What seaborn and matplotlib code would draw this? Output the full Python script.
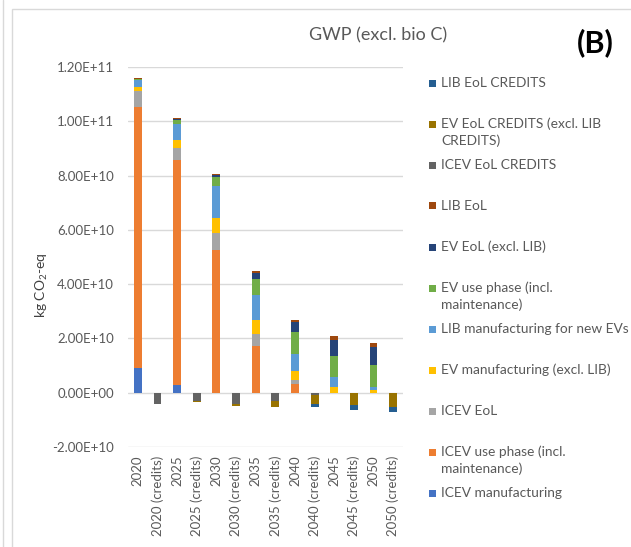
import matplotlib
matplotlib.use("Agg")
import matplotlib.pyplot as plt
import matplotlib.ticker as mticker
from matplotlib.patches import Rectangle
from matplotlib.lines import Line2D
import numpy as np
import pandas as pd
import seaborn as sns

# ---------------- data (kg CO2-eq, units of 1e9) ----------------
categories = ["2020", "2020 (credits)", "2025", "2025 (credits)", "2030", "2030 (credits)",
              "2035", "2035 (credits)", "2040", "2040 (credits)", "2045", "2045 (credits)",
              "2050", "2050 (credits)"]

icev_manufacturing = [9.1, 0, 2.9, 0, 0, 0, 0, 0, 0, 0, 0, 0, 0, 0]
icev_use_phase     = [96.0, 0, 82.9, 0, 52.7, 0, 17.3, 0, 3.1, 0, 0, 0, 0, 0]
icev_eol           = [5.9, 0, 4.5, 0, 6.3, 0, 4.3, 0, 1.6, 0, 0, 0, 0, 0]
ev_manufacturing   = [1.5, 0, 2.8, 0, 5.5, 0, 5.2, 0, 3.2, 0, 2.1, 0, 1.0, 0]
lib_manufacturing  = [2.6, 0, 5.8, 0, 11.8, 0, 9.2, 0, 6.3, 0, 3.7, 0, 1.2, 0]
ev_use_phase       = [0.6, 0, 1.6, 0, 3.3, 0, 6.0, 0, 8.2, 0, 7.6, 0, 8.1, 0]
ev_eol             = [0.05, 0, 0.4, 0, 0.7, 0, 2.1, 0, 3.8, 0, 5.9, 0, 6.5, 0]
lib_eol            = [0.02, 0, 0.3, 0, 0.3, 0, 0.6, 0, 0.7, 0, 1.5, 0, 1.6, 0]
icev_eol_credits   = [0, -4.1, 0, -3.2, 0, -4.3, 0, -3.1, 0, -0.9, 0, 0, 0, 0]
ev_eol_credits     = [0, -0.1, 0, -0.1, 0, -0.5, 0, -2.1, 0, -3.1, 0, -4.7, 0, -5.2]
lib_eol_credits    = [0, 0, 0, -0.3, 0, -0.1, 0, -0.2, 0, -1.1, 0, -1.5, 0, -1.8]

series_names = ["ICEV manufacturing", "ICEV use phase (incl. maintenance)", "ICEV EoL",
                "EV manufacturing (excl. LIB)", "LIB manufacturing for new EVs",
                "EV use phase (incl. maintenance)", "EV EoL (excl. LIB)", "LIB EoL",
                "ICEV EoL CREDITS", "EV EoL CREDITS (excl. LIB CREDITS)", "LIB EoL CREDITS"]
series_values = [icev_manufacturing, icev_use_phase, icev_eol, ev_manufacturing,
                 lib_manufacturing, ev_use_phase, ev_eol, lib_eol,
                 icev_eol_credits, ev_eol_credits, lib_eol_credits]
series_colors = ["#4472C4", "#ED7D31", "#A5A5A5", "#FFC000", "#5B9BD5", "#70AD47",
                 "#264478", "#9E480E", "#636363", "#997300", "#255E91"]

legend_lines = {
    "LIB EoL CREDITS": ["LIB EoL CREDITS"],
    "EV EoL CREDITS (excl. LIB CREDITS)": ["EV EoL CREDITS (excl. LIB", "CREDITS)"],
    "ICEV EoL CREDITS": ["ICEV EoL CREDITS"],
    "LIB EoL": ["LIB EoL"],
    "EV EoL (excl. LIB)": ["EV EoL (excl. LIB)"],
    "EV use phase (incl. maintenance)": ["EV use phase (incl.", "maintenance)"],
    "LIB manufacturing for new EVs": ["LIB manufacturing for new EVs"],
    "EV manufacturing (excl. LIB)": ["EV manufacturing (excl. LIB)"],
    "ICEV EoL": ["ICEV EoL"],
    "ICEV use phase (incl. maintenance)": ["ICEV use phase (incl.", "maintenance)"],
    "ICEV manufacturing": ["ICEV manufacturing"],
}

SCALE = 1e9

# ---------------- style ----------------
sns.set_theme(style="white")
plt.rcParams["font.family"] = ["Lato", "DejaVu Sans"]
plt.rcParams["mathtext.default"] = "regular"
TXT = "#595959"

W, H = 631, 547
fig = plt.figure(figsize=(W / 100, H / 100), dpi=100)
ax = fig.add_axes([128 / W, 1 - 447 / H, 275 / W, 380 / H])

pos_bottom = np.zeros(len(categories))
neg_bottom = np.zeros(len(categories))
for name, vals, col in zip(series_names, series_values, series_colors):
    v = np.array(vals, dtype=float) * SCALE
    if (v <= 0).all():
        bottom = neg_bottom.copy()
        neg_bottom = neg_bottom + v
    else:
        bottom = pos_bottom.copy()
        pos_bottom = pos_bottom + v
    df = pd.DataFrame({"cat": categories, "val": v})
    sns.barplot(data=df, x="cat", y="val", order=categories, color=col, saturation=1,
                width=0.4, bottom=bottom, ax=ax, errorbar=None, linewidth=0)

ax.set_ylim(-2e10, 1.2e11)
ax.set_xlim(-0.5, len(categories) - 0.5)
ax.yaxis.set_major_locator(mticker.MultipleLocator(2e10))
ax.yaxis.set_major_formatter(mticker.FuncFormatter(lambda v, p: f"{v:.2E}"))
ax.yaxis.grid(True, color="#d9d9d9", lw=1)
ax.set_axisbelow(True)
for s in ax.spines.values():
    s.set_visible(False)
ax.tick_params(axis="both", length=0, colors=TXT, labelsize=9.5)
ax.tick_params(axis="y", pad=10)
ax.tick_params(axis="x", pad=6)
for lab in ax.get_xticklabels():
    lab.set_rotation(90)
ax.set_xlabel("")
ax.set_ylabel("")

# y label
fig.text(42 / W, 1 - 285 / H, "kg CO$_2$-eq", rotation=90, ha="center", va="center",
         fontsize=10, color="#404040")

# title and panel letter
fig.text(378 / W, 1 - 35 / H, "GWP (excl. bio C)", ha="center", va="center",
         fontsize=13, color=TXT)
fig.text(595 / W, 1 - 43 / H, "(B)", ha="center", va="center", fontsize=22,
         fontweight="bold", color="black")

# manual legend (Excel-like, evenly spaced slots)
legend_order = list(zip(series_names, series_colors))[::-1]
for i, (name, col) in enumerate(legend_order):
    yc = 83 + 41 * i
    fig.patches.append(Rectangle(((432 - 3.5) / W, 1 - (yc + 3.5) / H), 7 / W, 7 / H,
                                 transform=fig.transFigure, facecolor=col, edgecolor="none"))
    for j, line in enumerate(legend_lines[name]):
        fig.text(441 / W, 1 - (yc + 17 * j) / H, line, ha="left", va="center",
                 fontsize=9.9, color=TXT)

# chart area borders
fig.patches.append(Rectangle((12 / W, -0.1), 1.0, 1.1 - 9 / H, transform=fig.transFigure,
                             facecolor="none", edgecolor="#d9d9d9", lw=1))
fig.lines.append(Line2D([3 / W, 3 / W], [0, 1], transform=fig.transFigure,
                        color="#d9d9d9", lw=1))

fig.savefig("out.png", dpi=100)
